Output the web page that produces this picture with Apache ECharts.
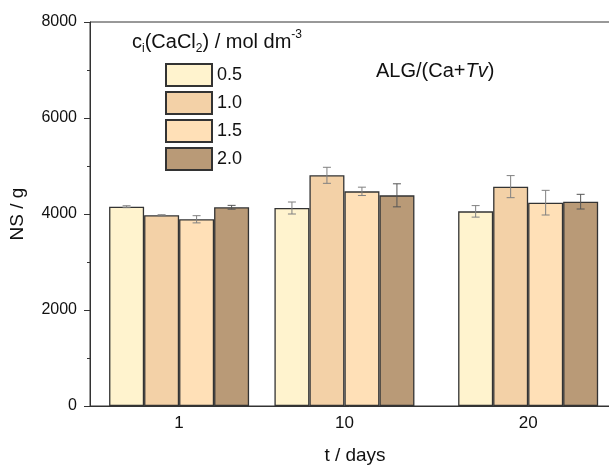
<!DOCTYPE html>
<html>
<head>
<meta charset="utf-8">
<script src="https://cdn.jsdelivr.net/npm/echarts@6/dist/echarts.min.js"></script>
<style>html,body{margin:0;padding:0;background:#fff}#c{width:609px;height:467px}</style>
</head>
<body>
<div id="c"></div>
<script>
// Data
const days = [1, 10, 20];
const seriesNames = ['0.5', '1.0', '1.5', '2.0'];
const values05 = [4152, 4125, 4055];
const values10 = [3973, 4806, 4570];
const values15 = [3890, 4472, 4236];
const values20 = [4140, 4389, 4257];
const err05 = [20, 125, 120];
const err10 = [12, 167, 230];
const err15 = [75, 87, 257];
const err20 = [40, 240, 153];
const yTicks = [0, 2000, 4000, 6000, 8000];

const colors = ['#FFF3CE', '#F3D1A7', '#FFE0B7', '#B99A77'];
const allValues = [values05, values10, values15, values20];
const allErr = [err05, err10, err15, err20];
const BAR_W = 35;

const chart = echarts.init(document.getElementById('c'), null, {renderer: 'canvas'});
const font = 'Liberation Sans, Arial, sans-serif';

const series = [];
seriesNames.forEach((n, i) => {
  series.push({
    type: 'bar', name: n,
    data: days.map((d, j) => [d, allValues[i][j]]),
    barWidth: BAR_W, barGap: '0%',
    itemStyle: {color: colors[i], borderColor: '#333', borderWidth: 1.3},
    emphasis: {disabled: true}
  });
});
seriesNames.forEach((n, i) => {
  const off = (i - 1.5) * BAR_W;
  series.push({
    type: 'custom', name: 'err' + n,
    data: days.map((d, j) => [d, allValues[i][j] - allErr[i][j], allValues[i][j] + allErr[i][j]]),
    z: 5,
    renderItem: function (params, api) {
      const lo = api.coord([api.value(0), api.value(1)]);
      const hi = api.coord([api.value(0), api.value(2)]);
      const x = lo[0] + off;
      const cw = 4;
      const st = {stroke: i === 3 ? '#555' : '#808080', lineWidth: 1};
      return {type: 'group', children: [
        {type: 'line', shape: {x1: x, y1: lo[1], x2: x, y2: hi[1]}, style: st},
        {type: 'line', shape: {x1: x - cw, y1: lo[1], x2: x + cw, y2: lo[1]}, style: st},
        {type: 'line', shape: {x1: x - cw, y1: hi[1], x2: x + cw, y2: hi[1]}, style: st}
      ]};
    }
  });
});

chart.setOption({
  animation: false,
  backgroundColor: '#fff',
  grid: {left: 90, top: 22, width: 530, height: 384, show: true, borderColor: '#333', borderWidth: 1, outerBoundsMode: 'none'},
  legend: {
    data: seriesNames, orient: 'vertical', left: 160, top: 58,
    itemWidth: 46, itemHeight: 22, itemGap: 4,
    textStyle: {fontFamily: font, fontSize: 18, color: '#111'},
    icon: 'rect', selectedMode: false
  },
  xAxis: {
    type: 'value', min: -3.85, max: 25,
    name: 't / days', nameLocation: 'middle', nameGap: 40,
    nameTextStyle: {fontFamily: font, fontSize: 19, color: '#111'},
    axisLine: {show: true, onZero: false, lineStyle: {color: '#333', width: 1}},
    axisTick: {show: false},
    splitLine: {show: false},
    axisLabel: {customValues: days, fontFamily: font, fontSize: 17, color: '#111', margin: 9}
  },
  yAxis: {
    type: 'value', min: 0, max: 8000, interval: 2000,
    name: 'NS / g', nameLocation: 'middle', nameGap: 63,
    nameTextStyle: {fontFamily: font, fontSize: 19, color: '#111'},
    axisLine: {show: true, onZero: false, lineStyle: {color: '#333', width: 1}},
    axisTick: {show: true, length: 6, lineStyle: {color: '#333'}},
    minorTick: {show: true, splitNumber: 2, length: 3, lineStyle: {color: '#333'}},
    splitLine: {show: false},
    axisLabel: {fontFamily: font, fontSize: 16, color: '#111', margin: 13,
      formatter: v => yTicks.includes(v) ? String(v) : ''}
  },
  graphic: [
    {type: 'text', left: 132, top: 29, style: {
      text: '{n|c}{s|i}{n|(CaCl}{s|2}{n|) / mol dm}{p|-3}',
      rich: {
        n: {fontFamily: font, fontSize: 20, fill: '#111', verticalAlign: 'middle', lineHeight: 26},
        s: {fontFamily: font, fontSize: 12, fill: '#111', verticalAlign: 'bottom', lineHeight: 26, padding: [12, 0, 0, 0]},
        p: {fontFamily: font, fontSize: 12, fill: '#111', verticalAlign: 'top', lineHeight: 26, padding: [0, 0, 14, 0]}
      }
    }},
    {type: 'text', left: 376, top: 61, style: {
      text: '{n|ALG/(Ca+}{i|Tv}{n|)}',
      rich: {
        n: {fontFamily: font, fontSize: 20, fill: '#111'},
        i: {fontFamily: font, fontSize: 20, fill: '#111', fontStyle: 'italic'}
      }
    }}
  ],
  series: series
});
</script>
</body>
</html>
